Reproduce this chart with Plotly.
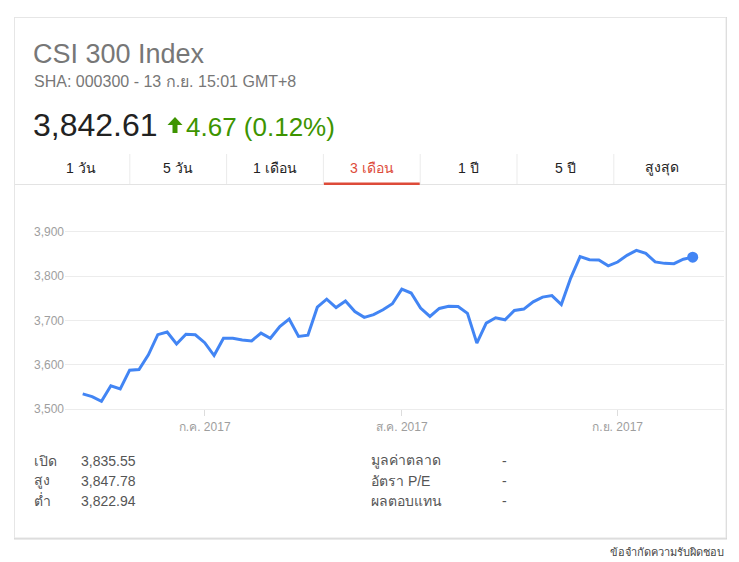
import plotly.graph_objects as go
import pandas as pd

# ---------------- data ----------------
dates = [d.strftime("%Y-%m-%d") for d in pd.bdate_range("2017-06-14", "2017-09-13")]
closes = [
    3534.6, 3528.6, 3518.0, 3553.0, 3546.0, 3588.0, 3589.5, 3622.6, 3668.0, 3674.0,
    3647.0, 3669.0, 3667.7, 3650.0, 3621.0, 3660.0, 3660.0, 3656.0, 3654.0, 3671.4,
    3660.0, 3686.5, 3703.0, 3664.0, 3667.0, 3730.0, 3748.0, 3729.0, 3743.6, 3720.0,
    3707.0, 3713.0, 3724.0, 3737.6, 3770.7, 3761.7, 3728.0, 3709.0, 3727.0, 3732.0,
    3731.6, 3716.0, 3649.0, 3694.0, 3706.0, 3701.5, 3722.6, 3725.6, 3742.0, 3752.6,
    3756.0, 3736.0, 3795.5, 3844.0, 3837.0, 3836.0, 3823.0, 3831.6, 3846.6, 3858.0,
    3851.0, 3832.0, 3828.6, 3828.0, 3837.94, 3842.61,
]
y_tickvals = [3500, 3600, 3700, 3800, 3900]
y_ticktext = ["3,500", "3,600", "3,700", "3,800", "3,900"]
x_tickvals = ["2017-07-03", "2017-08-01", "2017-09-01"]
x_ticktext = ["ก.ค. 2017", "ส.ค. 2017", "ก.ย. 2017"]

title = "CSI 300 Index"
subtitle = "SHA: 000300 - 13 ก.ย. 15:01 GMT+8"
price = "3,842.61"
change = "4.67 (0.12%)"
tabs = ["1 วัน", "5 วัน", "1 เดือน", "3 เดือน", "1 ปี", "5 ปี", "สูงสุด"]
selected_tab = 3
stat_labels_left = ["เปิด", "สูง", "ต่ำ"]
stat_values_left = ["3,835.55", "3,847.78", "3,822.94"]
stat_labels_right = ["มูลค่าตลาด", "อัตรา P/E", "ผลตอบแทน"]
stat_values_right = ["-", "-", "-"]
footer = "ข้อจำกัดความรับผิดชอบ"

# ---------------- layout helpers ----------------
W, H = 739, 562
KY = 1.0125  # small vertical correction of target pixel positions
def px(x):
    return x / W
def py(y):
    return 1 - (y * KY) / H

FONT = "Liberation Sans, Arial, Noto Sans, DejaVu Sans, sans-serif"
BLUE = "#4285f4"
GREEN = "#3d9400"
RED = "#dd4b39"

# y scale: 3,900 at 231.7px, 3,500 at 409.3px (target pixels)
ppu = (409.3 - 231.7) / 400.0
y_bot_px, y_top_px = 409.3, 190.0
y_range = [3500, 3500 + (y_bot_px - y_top_px) / ppu]
# x scale: index 0 at 82.7px, last index at 692.7px
step = (692.7 - 82.7) / (len(dates) - 1)
gx0, gx1 = 65.0, 724.0
x_range = [-(82.7 - gx0) / step, (len(dates) - 1) + (gx1 - 692.7) / step]

fig = go.Figure()
fig.add_trace(go.Scatter(
    x=dates, y=closes, mode="lines",
    line=dict(color=BLUE, width=3), hoverinfo="skip", showlegend=False,
))
fig.add_trace(go.Scatter(
    x=[dates[-1]], y=[closes[-1]], mode="markers",
    marker=dict(color=BLUE, size=11), hoverinfo="skip", showlegend=False,
))

shapes = []
# card shadow + card
shapes.append(dict(type="rect", xref="paper", yref="paper", layer="below",
                   x0=px(14), x1=px(727), y0=py(17), y1=py(539.5),
                   fillcolor="#d6d6d6", line=dict(width=0)))
shapes.append(dict(type="rect", xref="paper", yref="paper", layer="below",
                   x0=px(14.5), x1=px(726), y0=py(17.5), y1=py(538),
                   fillcolor="white", line=dict(color="#e6e6e6", width=1)))
# tab bottom line
shapes.append(dict(type="line", xref="paper", yref="paper", layer="below",
                   x0=px(15), x1=px(726), y0=py(184.5), y1=py(184.5),
                   line=dict(color="#e3e3e3", width=1)))
# tab separators
tab_left, tab_w = 33.0, 96.8
for i in range(1, len(tabs)):
    xs = tab_left + i * tab_w
    shapes.append(dict(type="line", xref="paper", yref="paper", layer="below",
                       x0=px(xs), x1=px(xs), y0=py(154), y1=py(184),
                       line=dict(color="#ebebeb", width=1)))
# selected tab underline
shapes.append(dict(type="rect", xref="paper", yref="paper", layer="below",
                   x0=px(tab_left + selected_tab * tab_w + 0.5),
                   x1=px(tab_left + (selected_tab + 1) * tab_w - 0.5),
                   y0=py(185), y1=py(182.5),
                   fillcolor=RED, line=dict(width=0)))
# green up arrow
arrow = [(175, 117), (182.5, 125), (177.5, 125), (177.5, 133), (172.5, 133), (172.5, 125), (167.5, 125)]
path = "M " + " L ".join(f"{px(a)},{py(b)}" for a, b in arrow) + " Z"
shapes.append(dict(type="path", xref="paper", yref="paper", path=path,
                   fillcolor=GREEN, line=dict(width=0)))

ann = []
def text(x, y, s, size, color, xanchor="left"):
    ann.append(dict(x=px(x), y=py(y), xref="paper", yref="paper", text=s,
                    showarrow=False, xanchor=xanchor, yanchor="middle",
                    font=dict(family=FONT, size=size, color=color)))

text(31, 54.5, title, 27, "#777777")
text(32, 82, subtitle, 16, "#777777")
text(31, 125, price, 32, "#222222")
text(184, 127, change, 26, GREEN)
for i, t in enumerate(tabs):
    cx = tab_left + (i + 0.5) * tab_w
    text(cx, 168, t, 14, RED if i == selected_tab else "#222222", xanchor="center")
for i in range(3):
    yy = 461 + i * 20
    text(32, yy, stat_labels_left[i], 14, "#555555")
    text(79, yy, stat_values_left[i], 14, "#555555")
    text(369, yy, stat_labels_right[i], 14, "#555555")
    text(500, yy, stat_values_right[i], 14, "#555555")
text(726, 552, footer, 11, "#444444", xanchor="right")

fig.update_layout(
    width=W, height=H,
    margin=dict(l=0, r=0, t=0, b=0),
    paper_bgcolor="white", plot_bgcolor="rgba(0,0,0,0)",
    shapes=shapes, annotations=ann,
    xaxis=dict(
        type="category", domain=[px(gx0), px(gx1)], range=x_range,
        tickmode="array", tickvals=x_tickvals, ticktext=x_ticktext,
        showgrid=False, zeroline=False,
        showline=True, linecolor="#ececec", linewidth=1,
        ticks="outside", ticklen=6, tickcolor="#dddddd",
        tickfont=dict(family=FONT, size=12, color="#9e9e9e"),
        fixedrange=True,
    ),
    yaxis=dict(
        domain=[py(y_bot_px), py(y_top_px)], range=y_range,
        tickmode="array", tickvals=y_tickvals, ticktext=y_ticktext,
        showgrid=True, gridcolor="#ececec", gridwidth=1, zeroline=False,
        ticks="", showline=False,
        tickfont=dict(family=FONT, size=12, color="#9e9e9e"),
        fixedrange=True,
    ),
    showlegend=False,
)

fig.write_html(
    "out.html",
    config={"displayModeBar": False},
    post_script="document.body.style.margin='0';document.body.style.overflow='hidden';",
)
